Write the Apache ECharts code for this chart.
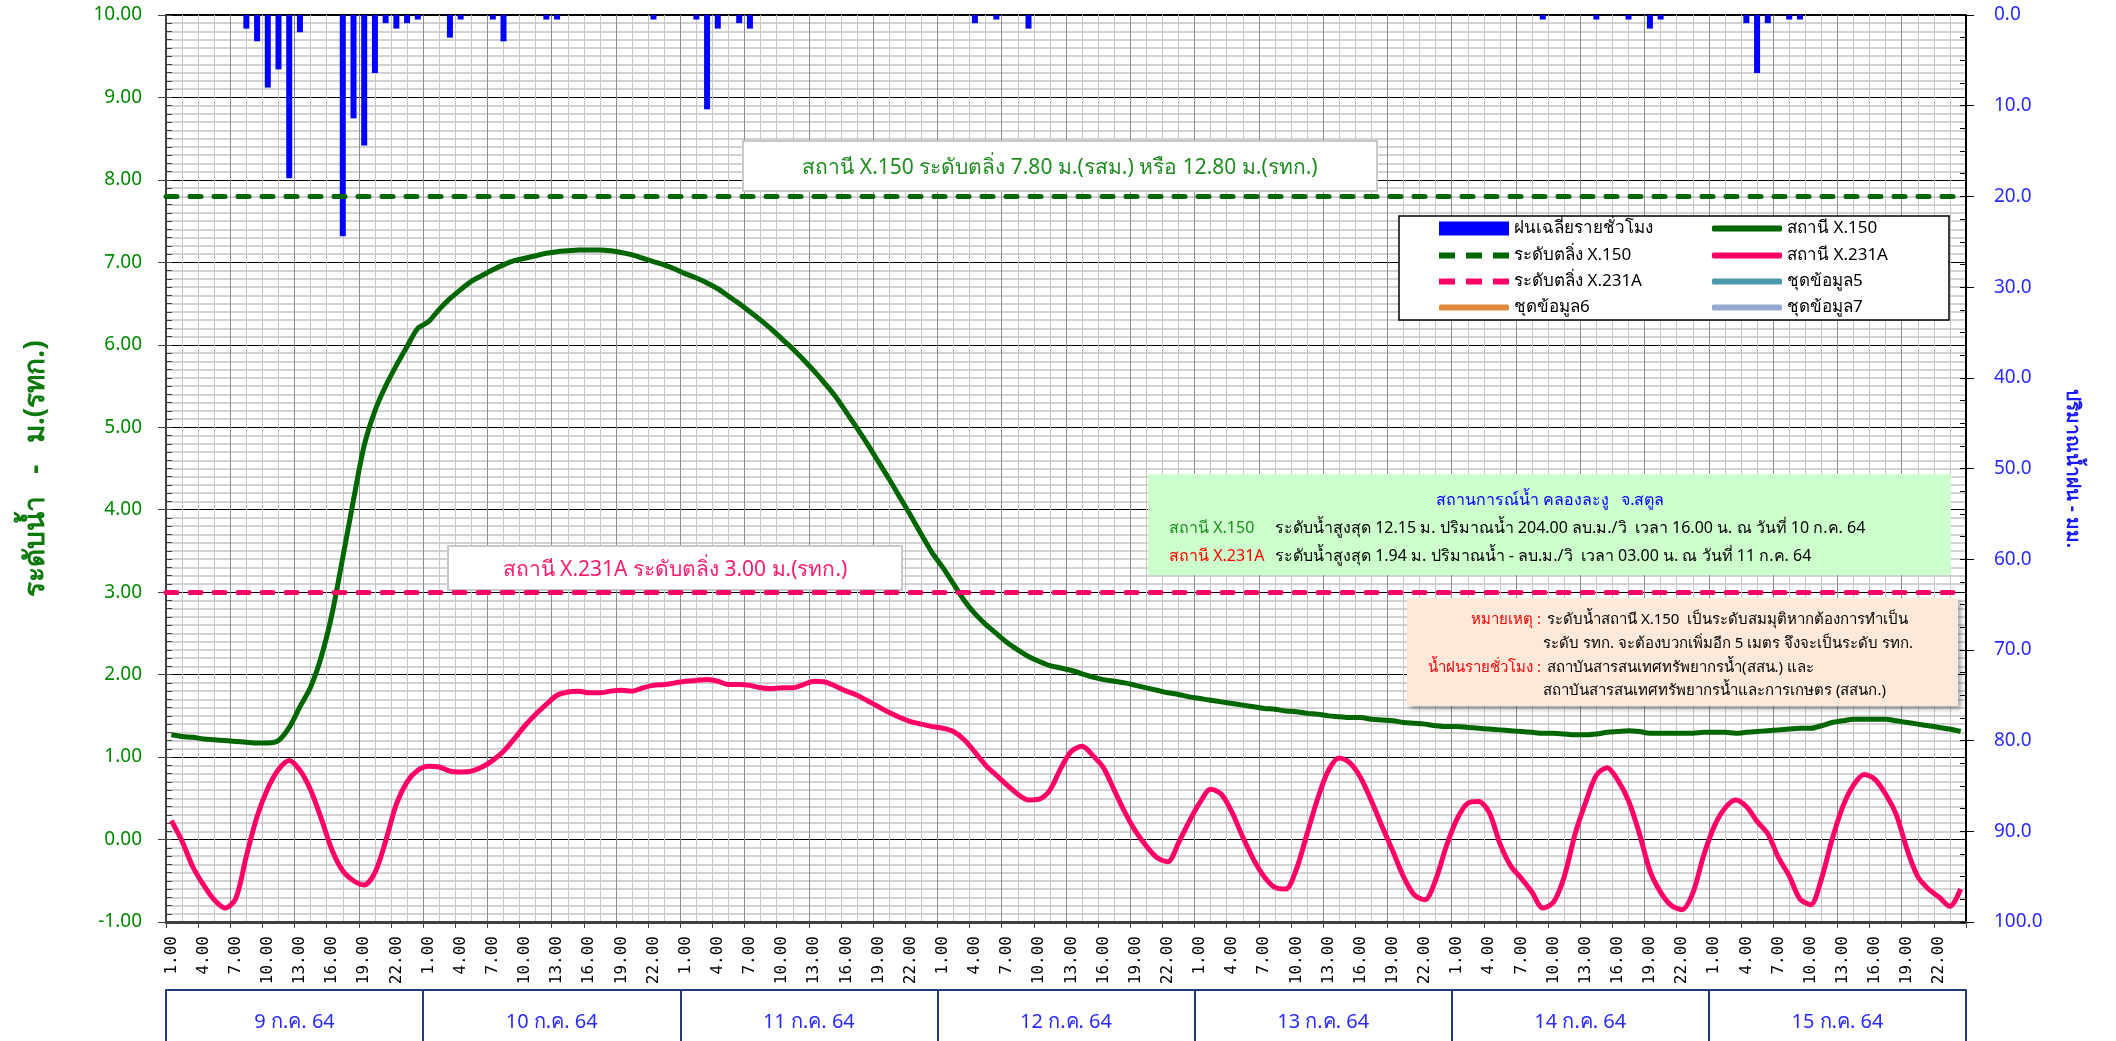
<!DOCTYPE html>
<html>
<head>
<meta charset="utf-8">
<script src="https://cdn.jsdelivr.net/npm/echarts@6/dist/echarts.min.js"></script>
<style>
  html, body { margin: 0; padding: 0; background: #fff; }
  #chart { width: 2116px; height: 1041px; }
</style>
</head>
<body>
<div id="chart"></div>
<script>
// วันที่ (กล่องล่าง)
const days = ['9 ก.ค. 64', '10 ก.ค. 64', '11 ก.ค. 64', '12 ก.ค. 64', '13 ก.ค. 64', '14 ก.ค. 64', '15 ก.ค. 64'];
// ชั่วโมงในแต่ละวัน
const hourLabels = ['1.00', '2.00', '3.00', '4.00', '5.00', '6.00', '7.00', '8.00', '9.00', '10.00', '11.00', '12.00',
  '13.00', '14.00', '15.00', '16.00', '17.00', '18.00', '19.00', '20.00', '21.00', '22.00', '23.00', '24.00'];

// ระดับน้ำ สถานี X.150 (ม.รสม.) รายชั่วโมง
const levelX150 = [
  1.27, 1.25, 1.24, 1.22, 1.21, 1.20, 1.19, 1.18, 1.17, 1.17, 1.20, 1.36, 1.61, 1.85, 2.22, 2.74, 3.42, 4.12, 4.78, 5.20, 5.50, 5.75, 5.98, 6.20,
  6.28, 6.43, 6.56, 6.67, 6.77, 6.84, 6.91, 6.97, 7.02, 7.05, 7.08, 7.11, 7.13, 7.14, 7.15, 7.15, 7.15, 7.14, 7.12, 7.09, 7.05, 7.01, 6.97, 6.92,
  6.86, 6.81, 6.75, 6.68, 6.59, 6.50, 6.40, 6.30, 6.19, 6.07, 5.95, 5.82, 5.68, 5.53, 5.37, 5.18, 4.99, 4.79, 4.58, 4.37, 4.15, 3.93, 3.70, 3.48,
  3.30, 3.10, 2.90, 2.74, 2.61, 2.50, 2.39, 2.30, 2.22, 2.16, 2.11, 2.08, 2.05, 2.01, 1.97, 1.94, 1.92, 1.90, 1.87, 1.84, 1.81, 1.78, 1.76, 1.73,
  1.71, 1.69, 1.67, 1.65, 1.63, 1.61, 1.59, 1.58, 1.56, 1.55, 1.53, 1.52, 1.50, 1.49, 1.48, 1.48, 1.46, 1.45, 1.44, 1.42, 1.41, 1.40, 1.38, 1.37,
  1.37, 1.36, 1.35, 1.34, 1.33, 1.32, 1.31, 1.30, 1.29, 1.29, 1.28, 1.27, 1.27, 1.28, 1.30, 1.31, 1.32, 1.31, 1.29, 1.29, 1.29, 1.29, 1.29, 1.30,
  1.30, 1.30, 1.29, 1.30, 1.31, 1.32, 1.33, 1.34, 1.35, 1.35, 1.38, 1.42, 1.44, 1.46, 1.46, 1.46, 1.46, 1.44, 1.42, 1.40, 1.38, 1.36, 1.34, 1.31
];

// ระดับน้ำ สถานี X.231A (ม.รทก.) รายชั่วโมง
const levelX231A = [
  0.23, -0.02, -0.33, -0.55, -0.73, -0.83, -0.72, -0.20, 0.28, 0.62, 0.85, 0.96, 0.84, 0.60, 0.25, -0.13, -0.38, -0.50, -0.55, -0.40, -0.02, 0.43, 0.70, 0.84,
  0.89, 0.88, 0.83, 0.82, 0.83, 0.88, 0.96, 1.07, 1.22, 1.38, 1.52, 1.64, 1.75, 1.79, 1.80, 1.78, 1.78, 1.80, 1.81, 1.80, 1.84, 1.87, 1.88, 1.90,
  1.92, 1.93, 1.94, 1.92, 1.88, 1.88, 1.87, 1.84, 1.83, 1.84, 1.84, 1.88, 1.92, 1.91, 1.86, 1.80, 1.75, 1.68, 1.61, 1.54, 1.48, 1.43, 1.40, 1.37,
  1.35, 1.31, 1.21, 1.06, 0.90, 0.78, 0.66, 0.55, 0.48, 0.49, 0.60, 0.86, 1.07, 1.13, 1.02, 0.87, 0.60, 0.33, 0.10, -0.08, -0.22, -0.27, -0.04, 0.22,
  0.45, 0.61, 0.55, 0.33, 0.03, -0.24, -0.45, -0.58, -0.60, -0.36, 0.07, 0.50, 0.84, 0.99, 0.93, 0.75, 0.47, 0.16, -0.14, -0.45, -0.67, -0.73, -0.49, -0.08,
  0.25, 0.44, 0.46, 0.33, -0.05, -0.32, -0.47, -0.64, -0.83, -0.76, -0.45, 0.06, 0.45, 0.78, 0.87, 0.72, 0.47, 0.08, -0.38, -0.64, -0.80, -0.85, -0.65, -0.20,
  0.16, 0.38, 0.48, 0.40, 0.22, 0.07, -0.22, -0.44, -0.72, -0.79, -0.48, 0.00, 0.40, 0.66, 0.79, 0.73, 0.55, 0.30, -0.12, -0.45, -0.60, -0.70, -0.81, -0.60
];

// ฝนเฉลี่ยรายชั่วโมง (มม.)
const rainHourly = [
  0, 0, 0, 0, 0, 0, 0, 1.5, 2.9, 8.0, 6.0, 18.0, 1.9, 0, 0, 0, 24.4, 11.4, 14.4, 6.4, 0.9, 1.5, 0.9, 0.5,
  0, 0, 2.5, 0.5, 0, 0, 0.5, 2.9, 0, 0, 0, 0.5, 0.5, 0, 0, 0, 0, 0, 0, 0, 0, 0.5, 0, 0,
  0, 0.5, 10.4, 1.5, 0, 0.9, 1.5, 0, 0, 0, 0, 0, 0, 0, 0, 0, 0, 0, 0, 0, 0, 0, 0, 0,
  0, 0, 0, 0.9, 0, 0.5, 0, 0, 1.5, 0, 0, 0, 0, 0, 0, 0, 0, 0, 0, 0, 0, 0, 0, 0,
  0, 0, 0, 0, 0, 0, 0, 0, 0, 0, 0, 0, 0, 0, 0, 0, 0, 0, 0, 0, 0, 0, 0, 0,
  0, 0, 0, 0, 0, 0, 0, 0, 0.5, 0, 0, 0, 0, 0.5, 0, 0, 0.5, 0, 1.5, 0.5, 0, 0, 0, 0,
  0, 0, 0, 0.9, 6.4, 0.9, 0, 0.5, 0.5, 0, 0, 0, 0, 0, 0, 0, 0, 0, 0, 0, 0, 0, 0, 0
];

// ระดับตลิ่ง
const bankX150 = 7.80;
const bankX231A = 3.00;

const FONT = '"Noto Sans", "DejaVu Sans", sans-serif';
const GREEN = '#006600';
const PINK = '#ff0066';

// แกน x: ทุกชั่วโมงของทุกวัน
const categories = [];
days.forEach(function (d, di) {
  hourLabels.forEach(function (h) { categories.push(di + '|' + h); });
});

const chart = echarts.init(document.getElementById('chart'));

function oneLegend(name, icon, left, top, h) {
  return {
    data: [{ name: name, icon: icon }],
    left: left, top: top, padding: 0, z: 10,
    itemWidth: 70, itemHeight: h, itemGap: 0,
    textStyle: { fontSize: 17, color: '#000', fontFamily: FONT }
  };
}
const DASH_ICON = 'path://M0,0h16v6h-16z M27,0h16v6h-16z M54,0h16v6h-16z';

const option = {
  animation: false,
  backgroundColor: '#fff',
  grid: { left: 166, right: 150, top: 15, bottom: 119, show: true, borderColor: '#000', borderWidth: 2, backgroundColor: '#fff' },
  legend: [
    oneLegend('ฝนเฉลี่ยรายชั่วโมง', 'rect', 1439, 220, 14),
    oneLegend('ระดับตลิ่ง X.150', DASH_ICON, 1439, 247, 6),
    oneLegend('ระดับตลิ่ง X.231A', DASH_ICON, 1439, 273, 6),
    oneLegend('ชุดข้อมูล6', 'roundRect', 1439, 299, 6),
    oneLegend('สถานี X.150', 'roundRect', 1712, 220, 6),
    oneLegend('สถานี X.231A', 'roundRect', 1712, 247, 6),
    oneLegend('ชุดข้อมูล5', 'roundRect', 1712, 273, 6),
    oneLegend('ชุดข้อมูล7', 'roundRect', 1712, 299, 6)
  ],
  xAxis: [
    {
      type: 'category', data: categories, boundaryGap: true, position: 'bottom',
      axisLine: { onZero: false, lineStyle: { color: '#404040', width: 3 } },
      axisTick: { show: true, interval: 2, length: 6, lineStyle: { color: '#404040', width: 1 } },
      axisLabel: {
        interval: 2, rotate: 90, margin: 14, color: '#000',
        fontFamily: '"DejaVu Sans Mono", monospace', fontSize: 16,
        formatter: function (v) { return v.split('|')[1]; }
      },
      splitLine: { show: false }
    },
    {
      type: 'category', data: days, boundaryGap: true, position: 'bottom', offset: 68,
      axisLine: { show: true, onZero: false, lineStyle: { color: '#1f3a78', width: 2 } },
      axisTick: { show: true, interval: 0, length: 55, inside: false, lineStyle: { color: '#1f3a78', width: 2 } },
      axisLabel: { show: true, interval: 0, margin: 22, color: '#2a2aff', fontSize: 20, fontFamily: FONT },
      splitLine: { show: false }
    },
    {
      // เส้นตารางแนวตั้ง
      type: 'value', position: 'top', min: 0, max: 168, interval: 6,
      axisLine: { show: false, onZero: false }, axisTick: { show: false }, axisLabel: { show: false },
      splitLine: { show: true, lineStyle: { color: '#8c8c8c', width: 1 } },
      minorTick: { show: false, splitNumber: 4 },
      minorSplitLine: { show: true, lineStyle: { color: '#c6c6c6', width: 1 } }
    }
  ],
  yAxis: [
    {
      type: 'value', position: 'left', min: -1, max: 10, interval: 1,
      name: 'ระดับน้ำ   -   ม.(รทก.)', nameLocation: 'middle', nameGap: 116,
      nameTextStyle: { color: '#0b7a0b', fontSize: 28, fontWeight: 'bold', fontFamily: FONT },
      axisLine: { show: true, onZero: false, lineStyle: { color: '#404040', width: 2 } },
      axisTick: { show: true, length: 8, lineStyle: { color: '#404040' } },
      axisLabel: { margin: 24, color: '#008a00', fontSize: 19, fontFamily: FONT, formatter: function (v) { return v.toFixed(2); } },
      splitLine: { show: true, lineStyle: { color: '#000', width: 1 } },
      minorTick: { show: false, splitNumber: 10 },
      minorSplitLine: { show: true, lineStyle: { color: '#c4c4c4', width: 1.5 } }
    },
    {
      type: 'value', position: 'right', inverse: true, min: 0, max: 100, interval: 10,
      name: 'ปริมาณน้ำฝน - มม.', nameLocation: 'middle', nameGap: 97, nameRotate: -90,
      nameTextStyle: { color: '#1a1aff', fontSize: 19, fontWeight: 'bold', fontFamily: FONT },
      axisLine: { show: true, onZero: false, lineStyle: { color: '#000', width: 2 } },
      axisTick: { show: true, length: 8, lineStyle: { color: '#000' } },
      axisLabel: { margin: 28, color: '#2a2aff', fontSize: 19, fontFamily: FONT, formatter: function (v) { return v.toFixed(1); } },
      splitLine: { show: false }
    },
    {
      // ขีดย่อยด้านซ้าย
      type: 'value', position: 'left', min: -1, max: 10, interval: 0.1,
      axisLine: { show: false, onZero: false }, axisLabel: { show: false }, splitLine: { show: false },
      axisTick: { show: true, inside: true, length: 6, lineStyle: { color: '#404040' } }
    },
    {
      // ขีดย่อยด้านขวา
      type: 'value', position: 'right', inverse: true, min: 0, max: 100, interval: 2.5,
      axisLine: { show: false, onZero: false }, axisLabel: { show: false }, splitLine: { show: false },
      axisTick: { show: true, inside: true, length: 6, lineStyle: { color: '#000' } }
    }
  ],
  series: [
    {
      name: 'ฝนเฉลี่ยรายชั่วโมง', type: 'bar', xAxisIndex: 0, yAxisIndex: 1,
      data: rainHourly, barWidth: 6, itemStyle: { color: '#0000ff' }
    },
    {
      name: 'สถานี X.150', type: 'line', xAxisIndex: 0, yAxisIndex: 0, data: levelX150,
      smooth: 0.3, symbol: 'none', z: 4,
      lineStyle: { color: GREEN, width: 5 }, itemStyle: { color: GREEN }
    },
    {
      name: 'สถานี X.231A', type: 'line', xAxisIndex: 0, yAxisIndex: 0, data: levelX231A,
      smooth: 0.3, symbol: 'none', z: 4,
      lineStyle: { color: PINK, width: 5 }, itemStyle: { color: PINK }
    },
    {
      name: 'ระดับตลิ่ง X.150', type: 'line', xAxisIndex: 0, yAxisIndex: 0, data: [],
      symbol: 'none', itemStyle: { color: GREEN }, lineStyle: { color: GREEN, width: 5, type: [11, 13], cap: 'round' },
      markLine: {
        silent: true, symbol: 'none', label: { show: false },
        lineStyle: { color: GREEN, width: 5, type: [11, 13], cap: 'round' },
        data: [{ yAxis: bankX150 }]
      }
    },
    {
      name: 'ระดับตลิ่ง X.231A', type: 'line', xAxisIndex: 0, yAxisIndex: 0, data: [],
      symbol: 'none', itemStyle: { color: PINK }, lineStyle: { color: PINK, width: 5, type: [11, 13], cap: 'round' },
      markLine: {
        silent: true, symbol: 'none', label: { show: false },
        lineStyle: { color: PINK, width: 5, type: [11, 13], cap: 'round' },
        data: [{ yAxis: bankX231A }]
      }
    },
    { name: 'ชุดข้อมูล5', type: 'line', data: [], symbol: 'none', itemStyle: { color: '#4a9bb0' }, lineStyle: { color: '#4a9bb0' } },
    { name: 'ชุดข้อมูล6', type: 'line', data: [], symbol: 'none', itemStyle: { color: '#e08a3c' }, lineStyle: { color: '#e08a3c' } },
    { name: 'ชุดข้อมูล7', type: 'line', data: [], symbol: 'none', itemStyle: { color: '#96a9d0' }, lineStyle: { color: '#96a9d0' } }
  ],
  graphic: [
    // กรอบคำอธิบายสัญลักษณ์
    { type: 'rect', z: 5, shape: { x: 1399, y: 216, width: 550, height: 104 }, style: { fill: '#fff', stroke: '#000', lineWidth: 1.5 } },
    // ป้ายระดับตลิ่ง X.150
    { type: 'rect', z: 5, shape: { x: 743, y: 141, width: 634, height: 50 }, style: { fill: '#fff', stroke: '#c8c8c8', lineWidth: 2 } },
    { type: 'text', z: 6, x: 1060, y: 168, style: { text: 'สถานี X.150 ระดับตลิ่ง 7.80 ม.(รสม.) หรือ 12.80 ม.(รทก.)', fill: '#1e8c1e', fontSize: 21, fontFamily: FONT, align: 'center', verticalAlign: 'middle' } },
    // ป้ายระดับตลิ่ง X.231A
    { type: 'rect', z: 5, shape: { x: 448, y: 546, width: 454, height: 44 }, style: { fill: '#fff', stroke: '#c8c8c8', lineWidth: 2 } },
    { type: 'text', z: 6, x: 675, y: 570, style: { text: 'สถานี X.231A ระดับตลิ่ง 3.00 ม.(รทก.)', fill: '#ff1a70', fontSize: 21, fontFamily: FONT, align: 'center', verticalAlign: 'middle' } },
    // สถานการณ์น้ำ
    { type: 'rect', z: 5, shape: { x: 1148, y: 474, width: 803, height: 101 }, style: { fill: '#ccffcc' } },
    { type: 'text', z: 6, x: 1550, y: 500, style: { text: 'สถานการณ์น้ำ คลองละงู   จ.สตูล', fill: '#0000ff', fontSize: 16, fontFamily: FONT, align: 'center', verticalAlign: 'middle' } },
    { type: 'text', z: 6, x: 1169, y: 528, style: { text: 'สถานี X.150', fill: '#1e8c1e', fontSize: 16, fontFamily: FONT, verticalAlign: 'middle' } },
    { type: 'text', z: 6, x: 1275, y: 528, style: { text: 'ระดับน้ำสูงสุด 12.15 ม. ปริมาณน้ำ 204.00 ลบ.ม./วิ  เวลา 16.00 น. ณ วันที่ 10 ก.ค. 64', fill: '#000', fontSize: 16, fontFamily: FONT, verticalAlign: 'middle' } },
    { type: 'text', z: 6, x: 1169, y: 556, style: { text: 'สถานี X.231A', fill: '#ff0000', fontSize: 16, fontFamily: FONT, verticalAlign: 'middle' } },
    { type: 'text', z: 6, x: 1275, y: 556, style: { text: 'ระดับน้ำสูงสุด 1.94 ม. ปริมาณน้ำ - ลบ.ม./วิ  เวลา 03.00 น. ณ วันที่ 11 ก.ค. 64', fill: '#000', fontSize: 16, fontFamily: FONT, verticalAlign: 'middle' } },
    // หมายเหตุ
    { type: 'rect', z: 5, shape: { x: 1407, y: 598, width: 551, height: 108 }, style: { fill: '#fde9d9', shadowBlur: 5, shadowOffsetX: 3, shadowOffsetY: 3, shadowColor: 'rgba(0,0,0,0.35)' } },
    { type: 'text', z: 6, x: 1541, y: 620, style: { text: 'หมายเหตุ :', fill: '#ff0000', fontSize: 15, fontFamily: FONT, align: 'right', verticalAlign: 'middle' } },
    { type: 'text', z: 6, x: 1547, y: 620, style: { text: 'ระดับน้ำสถานี X.150  เป็นระดับสมมุติหากต้องการทำเป็น', fill: '#000', fontSize: 15, fontFamily: FONT, verticalAlign: 'middle' } },
    { type: 'text', z: 6, x: 1543, y: 644, style: { text: 'ระดับ รทก. จะต้องบวกเพิ่มอีก 5 เมตร จึงจะเป็นระดับ รทก.', fill: '#000', fontSize: 15, fontFamily: FONT, verticalAlign: 'middle' } },
    { type: 'text', z: 6, x: 1541, y: 668, style: { text: 'น้ำฝนรายชั่วโมง :', fill: '#ff0000', fontSize: 15, fontFamily: FONT, align: 'right', verticalAlign: 'middle' } },
    { type: 'text', z: 6, x: 1547, y: 668, style: { text: 'สถาบันสารสนเทศทรัพยากรน้ำ(สสน.) และ', fill: '#000', fontSize: 15, fontFamily: FONT, verticalAlign: 'middle' } },
    { type: 'text', z: 6, x: 1543, y: 691, style: { text: 'สถาบันสารสนเทศทรัพยากรน้ำและการเกษตร (สสนก.)', fill: '#000', fontSize: 15, fontFamily: FONT, verticalAlign: 'middle' } }
  ]
};

chart.setOption(option);
</script>
</body>
</html>
